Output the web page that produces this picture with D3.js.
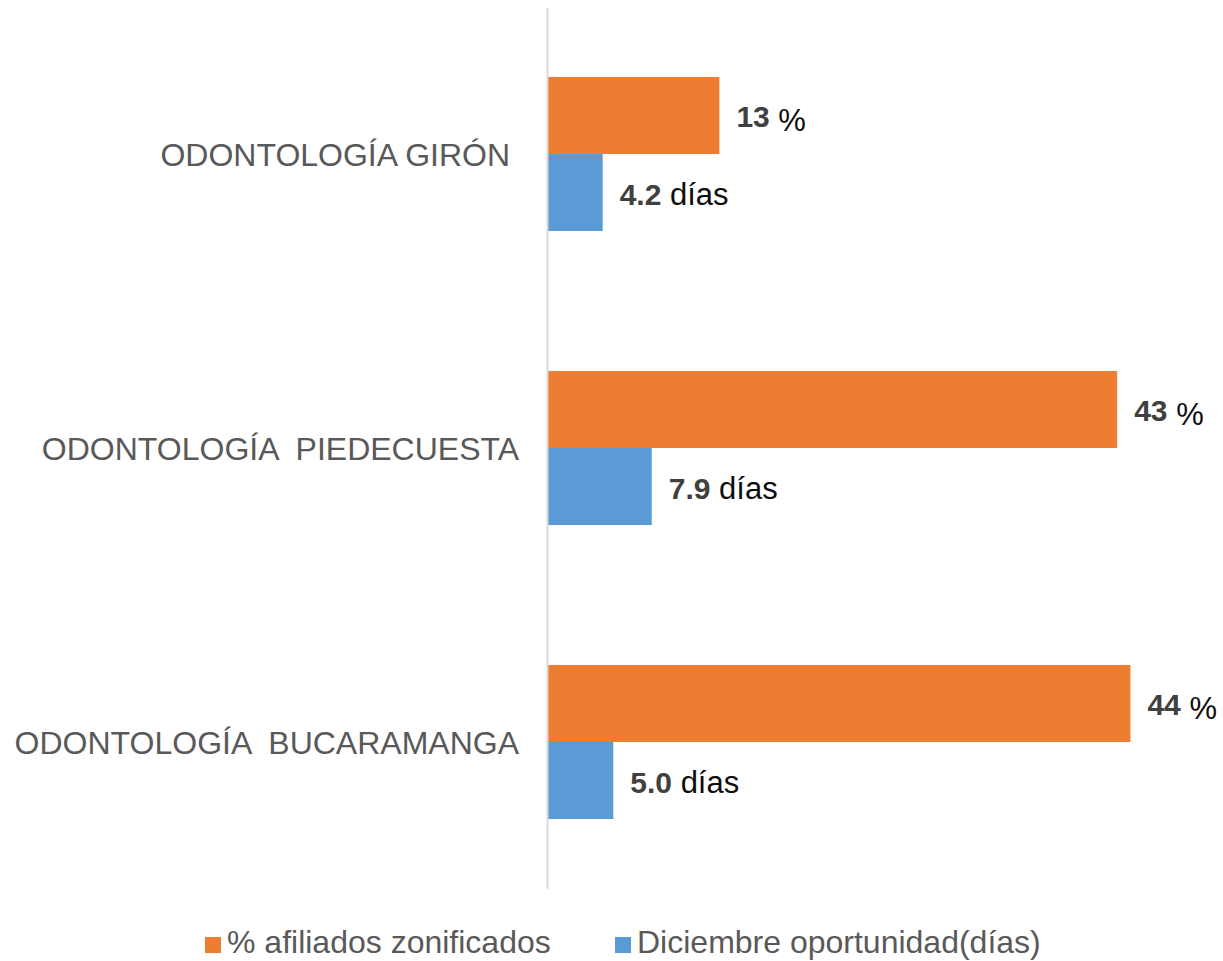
<!DOCTYPE html>
<html>
<head>
<meta charset="utf-8">
<script src="https://cdn.jsdelivr.net/npm/d3@7"></script>
<style>
  body { margin: 0; background: #fff; }
  svg { display: block; font-family: "Liberation Sans", Arial, sans-serif; }
  text { white-space: pre; }
</style>
</head>
<body>
<svg id="chart" width="1223" height="961"></svg>
<script>
// data
const categories = ["ODONTOLOGÍA GIRÓN ", "ODONTOLOGÍA  PIEDECUESTA", "ODONTOLOGÍA  BUCARAMANGA"];
const seriesNames = ["% afiliados zonificados", "Diciembre oportunidad(días)"];
const afiliados = [13, 43, 44];
const oportunidad = [4.2, 7.9, 5.0];
const labelNumbers = [["13", "43", "44"], ["4.2", "7.9", "5.0"]];
const labelUnits = ["%", "días"];
const colors = ["#ED7D31", "#5B9BD5"];

const svg = d3.select("#chart");

// scales
const y = d3.scaleBand()
  .domain(categories)
  .range([7, 889])
  .paddingInner(0.476)
  .paddingOuter(0.238);

const ySub = d3.scaleBand()
  .domain([0, 1])
  .range([0, y.bandwidth()]);

const x = d3.scaleLinear()
  .domain([0, 50])
  .range([547, 1210]);

const series = [afiliados, oportunidad];

// bars
series.forEach((vals, s) => {
  const g = svg.append("g");
  g.selectAll("rect")
    .data(vals)
    .join("rect")
      .attr("x", x(0))
      .attr("y", (d, i) => y(categories[i]) + ySub(s))
      .attr("width", d => x(d) - x(0))
      .attr("height", ySub.bandwidth())
      .attr("fill", colors[s]);

  // value labels
  const t = g.selectAll("text")
    .data(vals)
    .join("text")
      .attr("x", d => x(d) + 17)
      .attr("y", (d, i) => y(categories[i]) + ySub(s) + ySub.bandwidth() / 2 + 12)
      .style("font-size", "30px");
  t.append("tspan")
    .attr("fill", "#404040")
    .style("font-weight", "bold")
    .text((d, i) => labelNumbers[s][i]);
  t.append("tspan")
    .attr("fill", "#0d0d0d")
    .attr("dy", s === 0 ? 4 : 0)
    .style("font-size", "31px")
    .text(" " + labelUnits[s]);
});

// axis line (category axis)
svg.append("g")
  .attr("transform", `translate(${x(0)},0)`)
  .call(d3.axisLeft(y).tickSize(0).tickPadding(28))
  .call(g => g.select(".domain").attr("stroke", "#D9D9D9").attr("stroke-width", 2))
  .call(g => g.selectAll(".tick text")
    .attr("fill", "#595959")
    .attr("dy", "0.36em")
    .style("font-size", "32px")
    .style("font-family", "'Liberation Sans', Arial, sans-serif"));

// legend
const legendX = [205, 615];
const legend = svg.append("g")
  .selectAll("g")
  .data(seriesNames)
  .join("g")
    .attr("transform", (d, i) => `translate(${legendX[i]},937)`);
legend.append("rect")
  .attr("width", 16)
  .attr("height", 16)
  .attr("fill", (d, i) => colors[i]);
legend.append("text")
  .attr("x", 22)
  .attr("y", 16)
  .attr("fill", "#595959")
  .style("font-size", "32px")
  .text(d => d);
</script>
</body>
</html>
